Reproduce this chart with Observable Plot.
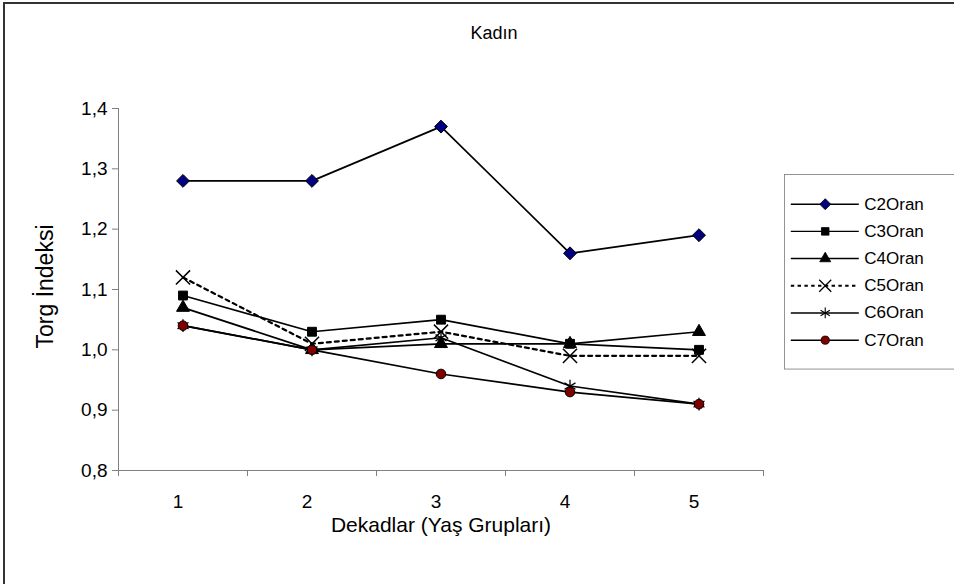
<!DOCTYPE html>
<html>
<head>
<meta charset="utf-8">
<script src="https://cdn.jsdelivr.net/npm/d3@7"></script>
<script src="https://cdn.jsdelivr.net/npm/@observablehq/plot@0.6"></script>
<style>
  html, body { margin: 0; padding: 0; background: #fff; overflow: hidden; }
  #wrap { position: relative; width: 954px; height: 584px; overflow: hidden; font-family: "Liberation Sans", Arial, sans-serif; }
  #border { position: absolute; left: 3px; top: 2px; width: 1100px; height: 1100px; border: 2px solid #333; box-sizing: border-box; }
  #chart { position: absolute; left: 0; top: 0; }
  #legend { position: absolute; left: 784px; top: 174px; }
</style>
</head>
<body>
<div id="wrap">
  <div id="border"></div>
  <div id="chart"></div>
  <div id="legend"></div>
</div>
<script>
// ---- data ----
const chartTitle = "Kadın";
const xTitle = "Dekadlar (Yaş Grupları)";
const yTitle = "Torg İndeksi";
const categories = [1, 2, 3, 4, 5];
const seriesNames = ["C2Oran", "C3Oran", "C4Oran", "C5Oran", "C6Oran", "C7Oran"];
const C2Oran = [1.28, 1.28, 1.37, 1.16, 1.19];
const C3Oran = [1.09, 1.03, 1.05, 1.01, 1.00];
const C4Oran = [1.07, 1.00, 1.01, 1.01, 1.03];
const C5Oran = [1.12, 1.01, 1.03, 0.99, 0.99];
const C6Oran = [1.04, 1.00, 1.02, 0.94, 0.91];
const C7Oran = [1.04, 1.00, 0.96, 0.93, 0.91];
const yTicks = [0.8, 0.9, 1.0, 1.1, 1.2, 1.3, 1.4];

// ---- styles ----
const seriesValues = { C2Oran, C3Oran, C4Oran, C5Oran, C6Oran, C7Oran };
const styles = {
  C2Oran: { symbol: "diamond2", fill: "#000080", r: 5.8, sw: 1, dash: null, lw: 1.7 },
  C3Oran: { symbol: "square", fill: "#000", r: 5.0, sw: 1, dash: null, lw: 1.7 },
  C4Oran: { symbol: "triangle", fill: "#000", r: 4.8, sw: 1, dash: null, lw: 1.7 },
  C5Oran: { symbol: "times", fill: "none", r: 6.5, sw: 1.5, dash: "4,4", lw: 2.2 },
  C6Oran: { symbol: "asterisk", fill: "none", r: 6.0, sw: 1.3, dash: null, lw: 1.7 },
  C7Oran: { symbol: "circle", fill: "#800000", r: 4.8, sw: 1, dash: null, lw: 1.7 }
};
const FONT_TICK = 19, FONT_AXIS = 21, FONT_YAXIS = 23, FONT_TITLE = 18, FONT_LEGEND = 20;

const tidy = seriesNames.flatMap(s => categories.map((c, i) => ({ series: s, x: c, y: seriesValues[s][i] })));
const bounds = [categories[0] - 0.5, ...categories.map(c => c + 0.5)];
const fmt = v => d3.format(".1f")(v).replace(".", ",");

const marks = [
  Plot.ruleX([bounds[0]], { stroke: "#808080" }),
  Plot.ruleY([yTicks[0]], { stroke: "#808080" }),
  Plot.axisX(bounds, { tickSize: 6, tickFormat: () => "", stroke: "#808080", label: null }),
  Plot.axisX(categories, { tickSize: 0, tickPadding: 24, dx: -5, tickFormat: d => String(d), fill: "#000", fontSize: FONT_TICK, label: null }),
  Plot.axisY(yTicks, { tickSize: 6, tickPadding: 5, tickFormat: fmt, stroke: "#808080", fill: "#000", fontSize: FONT_TICK, label: null })
];

for (const s of seriesNames) {
  const st = styles[s];
  const data = tidy.filter(d => d.series === s);
  marks.push(Plot.line(data, { x: "x", y: "y", stroke: "#000", strokeWidth: st.lw, strokeDasharray: st.dash }));
}
for (const s of seriesNames) {
  const st = styles[s];
  const data = tidy.filter(d => d.series === s);
  marks.push(Plot.dot(data, { x: "x", y: "y", symbol: () => st.symbol, r: st.r, fill: st.fill, stroke: "#000", strokeWidth: st.sw }));
}

marks.push(
  Plot.text([chartTitle], { frameAnchor: "top", text: d => d, dx: 53, dy: -75, lineAnchor: "middle", fontSize: FONT_TITLE, fill: "#000" }),
  Plot.text([xTitle], { frameAnchor: "bottom", text: d => d, dy: 55, lineAnchor: "middle", fontSize: FONT_AXIS, fill: "#000" }),
  Plot.text([yTitle], { frameAnchor: "left", text: d => d, dx: -73, dy: -3, rotate: -90, lineAnchor: "middle", textAnchor: "middle", fontSize: FONT_YAXIS, fill: "#000" })
);

const chart = Plot.plot({
  width: 954,
  height: 584,
  marginLeft: 118,
  marginRight: 191,
  marginTop: 108,
  marginBottom: 114,
  style: { fontFamily: '"Liberation Sans", Arial, sans-serif', fontSize: FONT_TICK + "px", background: "transparent", overflow: "visible" },
  x: { type: "linear", domain: [bounds[0], bounds[bounds.length - 1]] },
  y: { type: "linear", domain: [yTicks[0], yTicks[yTicks.length - 1]] },
  symbol: { type: "identity" },
  marks
});
document.getElementById("chart").appendChild(chart);

// ---- legend ----
const legendMarks = [Plot.frame({ stroke: "#808080" })];
for (const s of seriesNames) {
  const st = styles[s];
  legendMarks.push(Plot.ruleY([s], { y: d => d, x1: () => 0, x2: () => 1, stroke: "#000", strokeWidth: st.lw, strokeDasharray: st.dash }));
}
for (const s of seriesNames) {
  const st = styles[s];
  legendMarks.push(Plot.dot([s], { x: () => 0.5, y: d => d, symbol: () => st.symbol, r: st.r, fill: st.fill, stroke: "#000", strokeWidth: st.sw }));
}
legendMarks.push(Plot.text(seriesNames, { x: () => 1, y: d => d, text: d => d, textAnchor: "start", dx: 6, fontSize: FONT_LEGEND, fill: "#000" }));

const legend = Plot.plot({
  width: 200,
  height: 229,
  margin: 0,
  style: { fontFamily: '"Liberation Sans", Arial, sans-serif', fontSize: FONT_LEGEND + "px", background: "#fff", overflow: "visible" },
  x: { type: "linear", domain: [0, 1], range: [8, 88], axis: null },
  y: { type: "point", domain: seriesNames, range: [19, 211], axis: null },
  symbol: { type: "identity" },
  marks: legendMarks
});
document.getElementById("legend").appendChild(legend);
</script>
</body>
</html>
